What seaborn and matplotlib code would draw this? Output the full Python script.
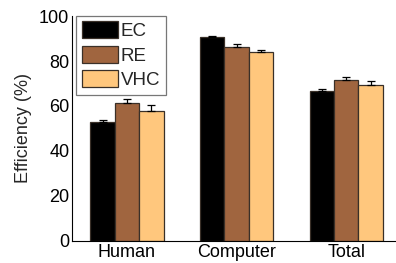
import numpy as np
import pandas as pd
import matplotlib
matplotlib.use('Agg')
import matplotlib.pyplot as plt
import seaborn as sns

# data
groups = ['Human', 'Computer', 'Total']
methods = ['EC', 'RE', 'VHC']
ec_vals = [52.7, 90.8, 66.5]
re_vals = [61.3, 86.4, 71.4]
vhc_vals = [57.9, 84.0, 69.5]
ec_err = [1.1, 0.4, 1.0]
re_err = [1.9, 1.2, 1.6]
vhc_err = [2.4, 0.8, 1.5]

colors = ['#000000', '#A0653F', '#FFC77D']

rows = []
for m, vals, errs in zip(methods, [ec_vals, re_vals, vhc_vals], [ec_err, re_err, vhc_err]):
    for g, v, e in zip(groups, vals, errs):
        rows.append({'group': g, 'method': m, 'value': v, 'err': e})
df = pd.DataFrame(rows)

sns.set_style('white')
plt.rcParams['font.family'] = ['Liberation Sans', 'DejaVu Sans']

fig = plt.figure(figsize=(3.96, 2.63), dpi=100)
ax = fig.add_axes([0.182, 0.084, 0.831, 0.855])

sns.barplot(data=df, x='group', y='value', hue='method', order=groups,
            hue_order=methods, palette=colors, saturation=1, width=0.667,
            gap=0, errorbar=None, edgecolor='#3a3028', linewidth=0.9, ax=ax)

# upward-only error bars, placed on the bar patches
for cont, m in zip(ax.containers, methods):
    sub = df[df['method'] == m].set_index('group').loc[groups]
    xs = [p.get_x() + p.get_width() / 2 for p in cont.patches]
    ax.errorbar(xs, sub['value'], yerr=[np.zeros(len(xs)), sub['err']],
                fmt='none', ecolor='black', elinewidth=0.9, capsize=3,
                capthick=0.9, zorder=5)

ax.set_xlim(-0.5, 2.5)
ax.set_ylim(0, 100)
ax.set_yticks([0, 20, 40, 60, 80, 100])
ax.set_xlabel('')
ax.set_ylabel('Efficiency (%)', fontsize=13, labelpad=5)
ax.tick_params(axis='both', labelsize=13, direction='in', length=3,
               width=0.8, colors='black', pad=2)
ax.tick_params(axis='x', length=0, pad=2)
for s in ['top', 'right']:
    ax.spines[s].set_visible(False)
for s in ['left', 'bottom']:
    ax.spines[s].set_color('black')
    ax.spines[s].set_linewidth(0.8)

leg = ax.legend(loc='upper left', bbox_to_anchor=(0.193, 0.94),
                bbox_transform=fig.transFigure, fontsize=13.5,
                frameon=True, fancybox=False, edgecolor='#555555',
                handlelength=1.9, handleheight=1.0, labelspacing=0.3,
                handletextpad=0.15, borderpad=0.3, borderaxespad=0)
leg.get_frame().set_linewidth(0.9)

fig.savefig('out.png', dpi=100)
